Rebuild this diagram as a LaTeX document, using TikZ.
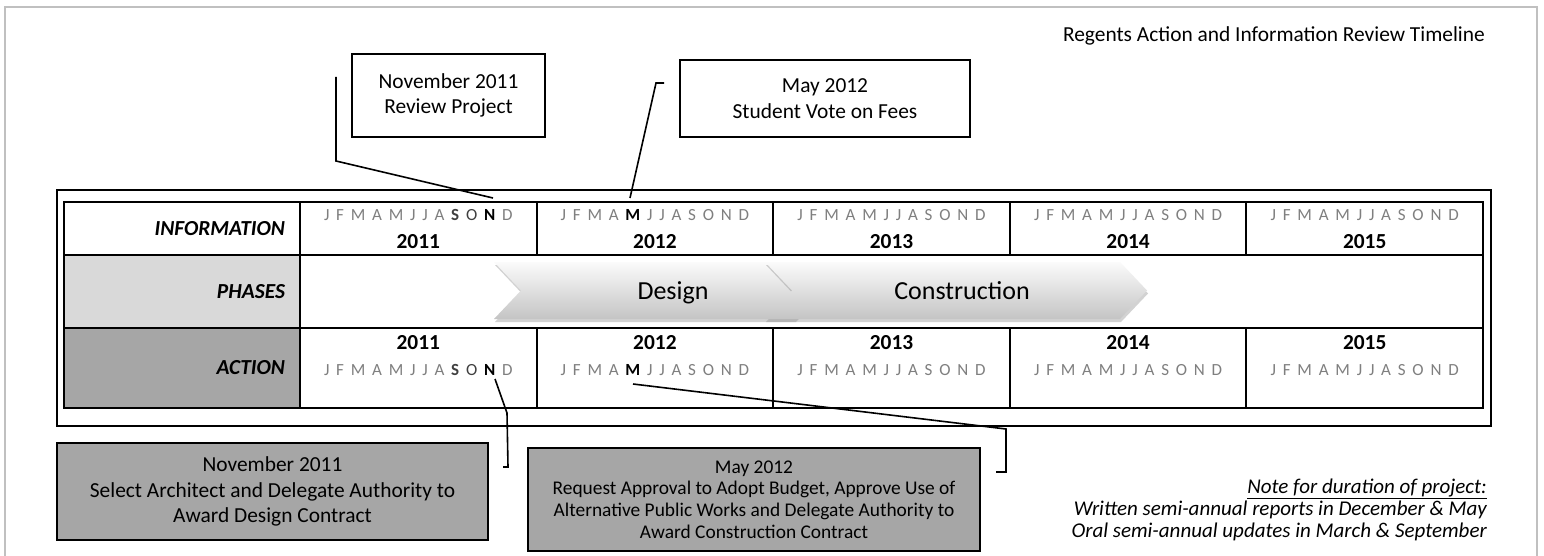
\documentclass[tikz,border=0pt]{standalone}
\usepackage{fontspec}
\setmainfont{Carlito}
\usetikzlibrary{positioning}
\usetikzlibrary{shadows}

\definecolor{labelgray}{HTML}{D9D9D9}
\definecolor{actiongray}{HTML}{A6A6A6}
\definecolor{monthgray}{HTML}{7F7F7F}
\definecolor{monthdark}{HTML}{404040}
\definecolor{framegray}{HTML}{C0C0C0}
\definecolor{chevtop}{HTML}{FBFBFB}
\definecolor{chevbot}{HTML}{C4C4C4}

\newcommand{\mg}{\hspace{6.8pt}}
\newcommand{\plainmonths}{J\mg F\mg M\mg A\mg M\mg J\mg J\mg A\mg S\mg O\mg N\mg D}
\newcommand{\novmonths}{J\mg F\mg M\mg A\mg M\mg J\mg J\mg A\mg\textcolor{monthdark}{\bfseries S}\mg\textcolor{monthdark}{O}\mg\textcolor{black}{\bfseries N}\mg D}
\newcommand{\maymonths}{J\mg F\mg M\mg A\mg\textcolor{black}{\bfseries M}\mg J\mg J\mg A\mg S\mg O\mg N\mg D}

\begin{document}
\begin{tikzpicture}[x=1pt, y=-1pt,
    cell/.style={draw, line width=2pt, rectangle, fill=white, minimum width=236.6pt, inner sep=0pt},
    lbl/.style={text width=206pt, align=right, font=\fontsize{21.4}{26}\selectfont\bfseries\itshape},
    yeartxt/.style={inner sep=0pt, font=\fontsize{21.4}{26}\selectfont\bfseries},
    monthtxt/.style={inner sep=0pt, text=monthgray, font=\fontsize{17}{20}\selectfont},
    callout/.style={draw, line width=1.6pt, rectangle, align=center, inner sep=0pt, font=\fontsize{21.4}{25.5}\selectfont},
    chevron/.style={top color=chevtop, bottom color=chevbot, drop shadow={shadow xshift=1pt, shadow yshift=-3pt, opacity=0.35}},
    phasetxt/.style={inner sep=0pt, anchor=base, font=\fontsize{26}{31}\selectfont},
    leader/.style={line width=1.6pt}]
        \useasboundingbox (0,0) rectangle (1544,556);
        \draw[framegray, line width=2.5pt] (5,556) -- (5,7) -- (1537,7) -- (1537,556);

        % heading and note
        \node[anchor=east, inner sep=0pt, font=\fontsize{21.4}{26}\selectfont] (title) at (1485,36) {Regents Action and Information Review Timeline};
        \node[anchor=east, align=right, inner sep=0pt, font=\fontsize{21}{22}\selectfont\itshape] (note) at (1487,510) {\underline{Note for duration of project:}\\Written semi-annual reports in December \& May\\Oral semi-annual updates in March \& September};

        % table
        \node[draw, line width=1.6pt, minimum width=1434pt, minimum height=236pt] (frame) at (774,308) {};
        \node[cell, minimum width=236pt, minimum height=53pt, lbl] (info) at (182,228.5) {INFORMATION};
        \node[cell, fill=labelgray, minimum width=236pt, minimum height=73pt, lbl] (phases) at (182,291.5) {PHASES};
        \node[cell, fill=actiongray, minimum width=236pt, minimum height=80pt, lbl] (action) at (182,368) {ACTION};
        \node[cell, minimum width=1183pt, minimum height=73pt] (phaserow) at (891.5,291.5) {};
        \foreach \yr/\mo [count=\k from 0] in {2011/\novmonths, 2012/\maymonths, 2013/\plainmonths, 2014/\plainmonths, 2015/\plainmonths} {
            \node[cell, minimum height=53pt] (i\yr) at (418.3+236.6*\k,228.5) {};
            \node[cell, minimum height=80pt] (a\yr) at (418.3+236.6*\k,368) {};
            \node[monthtxt] (im\yr) at (418.3+236.6*\k,215) {\mo};
            \node[yeartxt] (iy\yr) at (418.3+236.6*\k,242) {\yr};
            \node[yeartxt] (ay\yr) at (418.3+236.6*\k,343) {\yr};
            \node[monthtxt] (am\yr) at (418.3+236.6*\k,370) {\mo};
        }

        % phases
        \path[chevron] (494,262) -- (795,262) -- (822,290.5) -- (795,319) -- (494,319) -- (521,290.5) -- cycle;
        \node[phasetxt] (design) at (673,299) {Design};
        \path[chevron] (765,262) -- (1120,262) -- (1147,290.5) -- (1120,319) -- (765,319) -- (792,290.5) -- cycle;
        \node[phasetxt] (construction) at (962,299) {Construction};

        % callouts
        \node[callout, minimum width=193pt, minimum height=83pt] (review) at (448.5,95.5) {November 2011\\Review Project};
        \node[callout, minimum width=290pt, minimum height=77pt] (vote) at (825,98.5) {May 2012\\Student Vote on Fees};
        \node[callout, fill=actiongray, minimum width=431pt, minimum height=97pt] (architect) at (272.5,491.5) {November 2011\\Select Architect and Delegate Authority to\\Award Design Contract};
        \node[callout, fill=actiongray, minimum width=452pt, minimum height=103pt, font=\fontsize{19.4}{21.8}\selectfont] (budget) at (754,499.5) {May 2012\\Request Approval to Adopt Budget, Approve Use of\\Alternative Public Works and Delegate Authority to\\Award Construction Contract};

        % leaders
        \coordinate (nInfo) at (493,198);
        \coordinate (mInfo) at (630,198);
        \coordinate (nAct) at (495,379);
        \coordinate (mAct) at (633,384);
        \coordinate (reviewBend) at (336,161);
        \coordinate (reviewEnd) at (336,77);
        \coordinate (voteBend) at (656,83);
        \coordinate (voteEnd) at (664,83);
        \coordinate (archBend) at (507,413);
        \coordinate (archFoot) at (508,467);
        \coordinate (archEnd) at (503,467);
        \coordinate (budgetBend) at (1006,429);
        \coordinate (budgetFoot) at (1006,472);
        \coordinate (budgetEnd) at (996,472);
        \draw[leader] (nInfo) -- (reviewBend) -- (reviewEnd);
        \draw[leader] (mInfo) -- (voteBend) -- (voteEnd);
        \draw[leader] (nAct) -- (archBend) -- (archFoot) -- (archEnd);
        \draw[leader] (mAct) -- (budgetBend) -- (budgetFoot) -- (budgetEnd);
    \end{tikzpicture}
\end{document}
